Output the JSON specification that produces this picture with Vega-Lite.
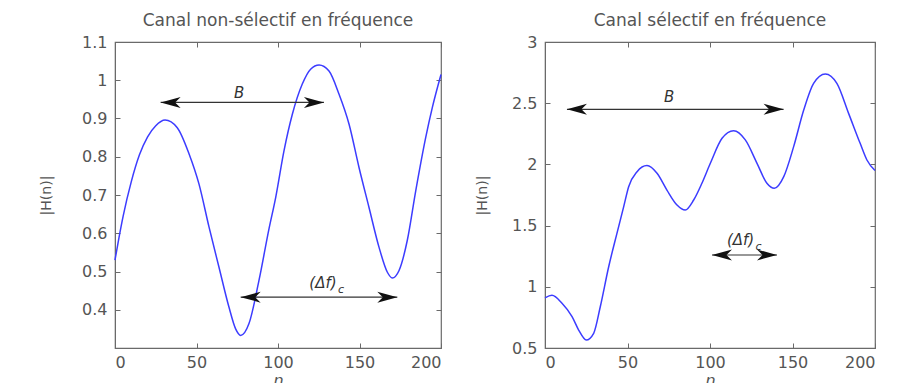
{
  "$schema": "https://vega.github.io/schema/vega-lite/v6.json",
  "padding": {"left": 38, "top": 11, "right": 5, "bottom": 5},
  "background": "white",
  "datasets": {
    "left": [
      {"n": 0, "h": 0.53}, {"n": 2.5, "h": 0.59}, {"n": 5, "h": 0.645}, {"n": 10, "h": 0.735},
      {"n": 15, "h": 0.805}, {"n": 20, "h": 0.852}, {"n": 25, "h": 0.881}, {"n": 30.7, "h": 0.896}, {"n": 38.2, "h": 0.876},
      {"n": 45.4, "h": 0.808}, {"n": 51.5, "h": 0.729}, {"n": 57.7, "h": 0.616}, {"n": 63.8, "h": 0.511},
      {"n": 69.9, "h": 0.407}, {"n": 74, "h": 0.35}, {"n": 77.1, "h": 0.333}, {"n": 82.2, "h": 0.364},
      {"n": 88.3, "h": 0.476}, {"n": 94.5, "h": 0.612}, {"n": 98.6, "h": 0.694}, {"n": 103.7, "h": 0.816},
      {"n": 108.8, "h": 0.911}, {"n": 114.9, "h": 0.99}, {"n": 120, "h": 1.029}, {"n": 125.2, "h": 1.04},
      {"n": 131.3, "h": 1.024}, {"n": 137.4, "h": 0.964}, {"n": 143.6, "h": 0.885}, {"n": 149.7, "h": 0.772},
      {"n": 155.8, "h": 0.668}, {"n": 162, "h": 0.563}, {"n": 167.1, "h": 0.498}, {"n": 170.1, "h": 0.483},
      {"n": 174.2, "h": 0.502}, {"n": 179.3, "h": 0.581}, {"n": 184.5, "h": 0.711}, {"n": 190.6, "h": 0.85},
      {"n": 194.7, "h": 0.929}, {"n": 200, "h": 1.015}
    ],
    "right": [
      {"n": 0, "h": 0.91}, {"n": 4.2, "h": 0.93}, {"n": 10.3, "h": 0.865}, {"n": 16.4, "h": 0.756},
      {"n": 20.4, "h": 0.647}, {"n": 25, "h": 0.565}, {"n": 29.5, "h": 0.62}, {"n": 33.5, "h": 0.837},
      {"n": 38.6, "h": 1.164}, {"n": 43.6, "h": 1.437}, {"n": 47.7, "h": 1.655}, {"n": 50.7, "h": 1.818},
      {"n": 55.8, "h": 1.94}, {"n": 61.8, "h": 1.99}, {"n": 67.9, "h": 1.927}, {"n": 73.9, "h": 1.79},
      {"n": 80, "h": 1.668}, {"n": 85, "h": 1.627}, {"n": 90.1, "h": 1.709}, {"n": 95.1, "h": 1.846},
      {"n": 100.2, "h": 2.009}, {"n": 107.3, "h": 2.213}, {"n": 114.3, "h": 2.275}, {"n": 121.4, "h": 2.2},
      {"n": 128.5, "h": 2.009}, {"n": 134.5, "h": 1.846}, {"n": 139, "h": 1.805}, {"n": 144.7, "h": 1.9},
      {"n": 150.7, "h": 2.145}, {"n": 156.8, "h": 2.444}, {"n": 162.8, "h": 2.662}, {"n": 169.9, "h": 2.739},
      {"n": 176.9, "h": 2.662}, {"n": 184, "h": 2.417}, {"n": 191, "h": 2.172}, {"n": 195.1, "h": 2.036},
      {"n": 200, "h": 1.95}
    ],
    "arrowsL": [
      {"x1": 28, "x2": 128.2, "y": 0.942},
      {"x1": 77.1, "x2": 173.2, "y": 0.433}
    ],
    "arrowsR": [
      {"x1": 13.3, "x2": 144.6, "y": 2.45},
      {"x1": 101.2, "x2": 140.6, "y": 1.26}
    ],
    "bL": [{"x": 76.1, "y": 0.967, "t": "B"}],
    "dL": [{"x": 127.6, "y": 0.471, "t": "(Δf)", "s": "c"}],
    "bR": [{"x": 75.2, "y": 2.55, "t": "B"}],
    "dR": [{"x": 118.5, "y": 1.382, "t": "(Δf)", "s": "c"}]
  },
  "config": {
    "font": "DejaVu Sans",
    "view": {"stroke": "#6a6a6a", "strokeWidth": 1.2},
    "axis": {
      "domainColor": "#6a6a6a", "tickColor": "#6a6a6a", "labelColor": "#555555", "titleColor": "#555555",
      "grid": false, "labelFontSize": 16, "titleFontSize": 14, "titleFontWeight": "normal",
      "tickSize": -5, "labelFont": "DejaVu Sans", "titleFont": "DejaVu Sans"
    },
    "axisX": {"labelPadding": 11},
    "axisY": {"labelPadding": 13},
    "title": {"fontSize": 17, "fontWeight": "normal", "color": "#555555", "offset": 0, "font": "DejaVu Sans"}
  },
  "spacing": 29,
  "hconcat": [
    {
      "width": 326, "height": 306,
      "title": "Canal non-sélectif en fréquence",
      "resolve": {"axis": {"x": "independent", "y": "independent"}},
      "layer": [
        {
          "data": {"name": "left"},
          "mark": {"type": "line", "color": "#3c3cff", "strokeWidth": 1.5, "interpolate": "monotone"},
          "encoding": {
            "x": {"field": "n", "type": "quantitative", "scale": {"domain": [0, 200], "nice": false},
                  "axis": {"orient": "bottom", "values": [0, 50, 100, 150, 200], "title": "n", "titleFontStyle": "italic", "titleFontSize": 16, "titlePadding": 2}},
            "y": {"field": "h", "type": "quantitative", "scale": {"domain": [0.3, 1.1], "nice": false, "zero": false},
                  "axis": {"orient": "left", "values": [0.4, 0.5, 0.6, 0.7, 0.8, 0.9, 1, 1.1], "labelExpr": "'' + datum.value", "title": "|H(n)|", "titlePadding": 28}}
          }
        },
        {
          "data": {"name": "arrowsL"},
          "mark": {"type": "rule", "color": "#333333", "strokeWidth": 1.2},
          "encoding": {
            "x": {"field": "x1", "type": "quantitative", "axis": {"orient": "top", "values": [0, 50, 100, 150, 200], "labels": false, "domain": false, "title": null}},
            "x2": {"field": "x2"},
            "y": {"field": "y", "type": "quantitative", "axis": {"orient": "right", "values": [0.4, 0.5, 0.6, 0.7, 0.8, 0.9, 1, 1.1], "labels": false, "domain": false, "title": null}}
          }
        },
        {
          "data": {"name": "arrowsL"},
          "mark": {"type": "point", "filled": true, "opacity": 1, "color": "#111111", "size": 400, "strokeWidth": 0, "shape": "M0,0L2,-0.55L1.45,0L2,0.55Z"},
          "encoding": {
            "x": {"field": "x1", "type": "quantitative", "axis": null},
            "y": {"field": "y", "type": "quantitative", "axis": null}
          }
        },
        {
          "data": {"name": "arrowsL"},
          "mark": {"type": "point", "filled": true, "opacity": 1, "color": "#111111", "size": 400, "strokeWidth": 0, "shape": "M0,0L-2,-0.55L-1.45,0L-2,0.55Z"},
          "encoding": {
            "x": {"field": "x2", "type": "quantitative", "axis": null},
            "y": {"field": "y", "type": "quantitative", "axis": null}
          }
        },
        {
          "data": {"name": "bL"},
          "mark": {"type": "text", "fontSize": 15, "fontStyle": "italic", "color": "#333333"},
          "encoding": {
            "x": {"field": "x", "type": "quantitative", "axis": null},
            "y": {"field": "y", "type": "quantitative", "axis": null},
            "text": {"field": "t"}
          }
        },
        {
          "data": {"name": "dL"},
          "mark": {"type": "text", "fontSize": 15, "fontStyle": "italic", "color": "#333333"},
          "encoding": {
            "x": {"field": "x", "type": "quantitative", "axis": null},
            "y": {"field": "y", "type": "quantitative", "axis": null},
            "text": {"field": "t"}
          }
        },
        {
          "data": {"name": "dL"},
          "mark": {"type": "text", "fontSize": 11, "fontStyle": "italic", "color": "#333333", "align": "left", "dx": 15, "dy": 7},
          "encoding": {
            "x": {"field": "x", "type": "quantitative", "axis": null},
            "y": {"field": "y", "type": "quantitative", "axis": null},
            "text": {"field": "s"}
          }
        }
      ]
    },
    {
      "width": 330, "height": 306,
      "title": "Canal sélectif en fréquence",
      "resolve": {"axis": {"x": "independent", "y": "independent"}},
      "layer": [
        {
          "data": {"name": "right"},
          "mark": {"type": "line", "color": "#3c3cff", "strokeWidth": 1.5, "interpolate": "monotone"},
          "encoding": {
            "x": {"field": "n", "type": "quantitative", "scale": {"domain": [0, 200], "nice": false},
                  "axis": {"orient": "bottom", "values": [0, 50, 100, 150, 200], "title": "n", "titleFontStyle": "italic", "titleFontSize": 16, "titlePadding": 2}},
            "y": {"field": "h", "type": "quantitative", "scale": {"domain": [0.5, 3], "nice": false, "zero": false},
                  "axis": {"orient": "left", "values": [0.5, 1, 1.5, 2, 2.5, 3], "labelExpr": "'' + datum.value", "title": "|H(n)|", "titlePadding": 22}}
          }
        },
        {
          "data": {"name": "arrowsR"},
          "mark": {"type": "rule", "color": "#333333", "strokeWidth": 1.2},
          "encoding": {
            "x": {"field": "x1", "type": "quantitative", "axis": {"orient": "top", "values": [0, 50, 100, 150, 200], "labels": false, "domain": false, "title": null}},
            "x2": {"field": "x2"},
            "y": {"field": "y", "type": "quantitative", "axis": {"orient": "right", "values": [0.5, 1, 1.5, 2, 2.5, 3], "labels": false, "domain": false, "title": null}}
          }
        },
        {
          "data": {"name": "arrowsR"},
          "mark": {"type": "point", "filled": true, "opacity": 1, "color": "#111111", "size": 400, "strokeWidth": 0, "shape": "M0,0L2,-0.55L1.45,0L2,0.55Z"},
          "encoding": {
            "x": {"field": "x1", "type": "quantitative", "axis": null},
            "y": {"field": "y", "type": "quantitative", "axis": null}
          }
        },
        {
          "data": {"name": "arrowsR"},
          "mark": {"type": "point", "filled": true, "opacity": 1, "color": "#111111", "size": 400, "strokeWidth": 0, "shape": "M0,0L-2,-0.55L-1.45,0L-2,0.55Z"},
          "encoding": {
            "x": {"field": "x2", "type": "quantitative", "axis": null},
            "y": {"field": "y", "type": "quantitative", "axis": null}
          }
        },
        {
          "data": {"name": "bR"},
          "mark": {"type": "text", "fontSize": 15, "fontStyle": "italic", "color": "#333333"},
          "encoding": {
            "x": {"field": "x", "type": "quantitative", "axis": null},
            "y": {"field": "y", "type": "quantitative", "axis": null},
            "text": {"field": "t"}
          }
        },
        {
          "data": {"name": "dR"},
          "mark": {"type": "text", "fontSize": 15, "fontStyle": "italic", "color": "#333333"},
          "encoding": {
            "x": {"field": "x", "type": "quantitative", "axis": null},
            "y": {"field": "y", "type": "quantitative", "axis": null},
            "text": {"field": "t"}
          }
        },
        {
          "data": {"name": "dR"},
          "mark": {"type": "text", "fontSize": 11, "fontStyle": "italic", "color": "#333333", "align": "left", "dx": 15, "dy": 7},
          "encoding": {
            "x": {"field": "x", "type": "quantitative", "axis": null},
            "y": {"field": "y", "type": "quantitative", "axis": null},
            "text": {"field": "s"}
          }
        }
      ]
    }
  ]
}
